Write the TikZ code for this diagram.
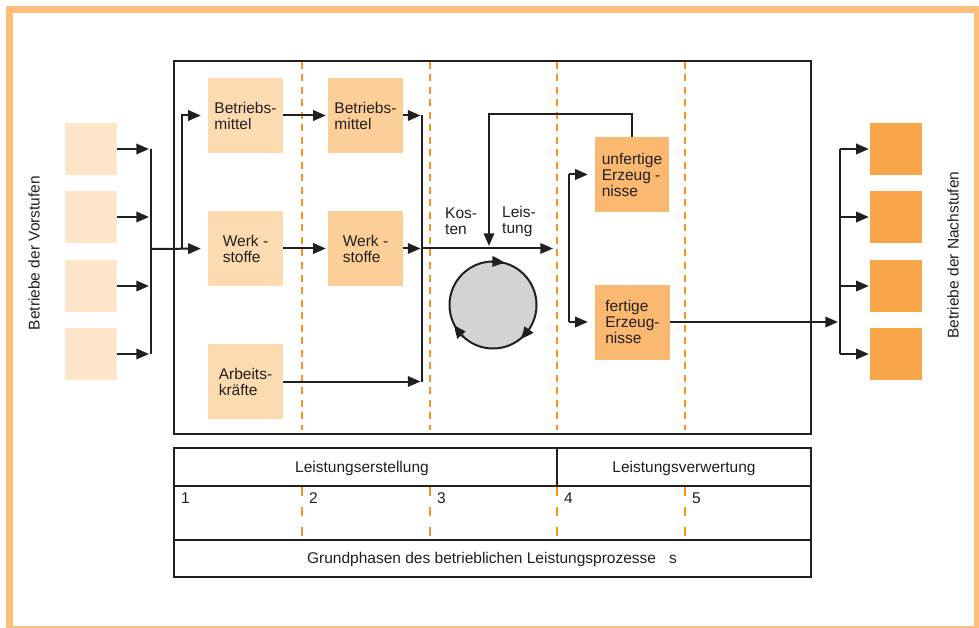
\documentclass[tikz,border=0pt]{standalone}
\usepackage{fontspec}
\setmainfont{Liberation Sans}
\usetikzlibrary{arrows.meta,bending}
\definecolor{ink}{HTML}{231F20}
\definecolor{framecol}{HTML}{FDBE7B}
\definecolor{phasecol}{HTML}{F7941D}
\definecolor{vscol}{HTML}{FDE5C9}
\definecolor{c1col}{HTML}{FDDBB0}
\definecolor{c2col}{HTML}{FDCF98}
\definecolor{c4col}{HTML}{FBB870}
\definecolor{nscol}{HTML}{F9A64A}
\definecolor{circcol}{HTML}{D1D3D4}
\begin{document}
\begin{tikzpicture}[x=1pt,y=-1pt,
  font=\fontsize{15.5}{16}\selectfont, text=ink,
  every node/.style={inner sep=0pt},
  ln/.style={draw=ink,line width=2pt},
  arr/.style={ln,-{Triangle[length=12.7pt,width=10.5pt]}},
  barr/.style={ln,-{Triangle[length=12.7pt,width=10.5pt,bend]}},
  pbox/.style={minimum width=75pt,minimum height=75pt,align=left},
  sbox/.style={minimum width=52pt,minimum height=52pt},
  phase/.style={draw=phasecol,line width=2pt,dash pattern=on 7pt off 5.5pt},
  tphase/.style={draw=phasecol,line width=2pt,dash pattern=on 8.5pt off 11.5pt},
  frame/.style={draw=ink,line width=2pt}]
\useasboundingbox (0,0) rectangle (979,628);
\fill[white] (0,0) rectangle (979,628);
\draw[draw=framecol,line width=7pt] (9.5,10) rectangle (977.5,629);

% main box and phase lines
\draw[frame] (174,61) rectangle (811,434);
\foreach \x in {302,430,557,685} \draw[phase] (\x,62) -- (\x,430);

% Vorstufen
\foreach \i/\y in {1/149,2/217,3/286,4/354} {
  \node[sbox,fill=vscol] (vs\i) at (91,\y) {};
  \coordinate (vj\i) at (151,\y);
  \draw[arr,shorten >=2pt] (vs\i.east) -- (vj\i);
}
\draw[ln] (vj1) -- (vj4);
\node[rotate=90] (vslabel) at (34,253) {Betriebe der Vorstufen};

% column 1
\node[pbox,fill=c1col] (bm1) at (245.5,115.5) {Betriebs-\\mittel};
\node[pbox,fill=c1col] (ws1) at (245.5,248.5) {Werk -\\stoffe};
\node[pbox,fill=c1col] (ak1) at (245.5,381.5) {Arbeits-\\kräfte};
\coordinate (vjm) at (151,249);
\coordinate (br1) at (182,249);
\coordinate (br2) at (182,115.5);
\draw[arr,shorten >=7pt] (vjm) -- (ws1.west);
\draw[arr,shorten >=7pt] (br1) -- (br2) -- (bm1.west);

% column 2
\node[pbox,fill=c2col] (bm2) at (365.5,115.5) {Betriebs-\\mittel};
\node[pbox,fill=c2col] (ws2) at (365.5,248.5) {Werk -\\stoffe};
\draw[arr,shorten >=2pt] (bm1.east) -- (bm2.west);
\draw[arr,shorten >=2pt] (ws1.east) -- (ws2.west);
\coordinate (c2a) at (422,115.5);
\coordinate (c2b) at (422,248.5);
\coordinate (c2c) at (422,381.5);
\draw[arr,shorten >=1.5pt] (bm2.east) -- (c2a);
\draw[arr,shorten >=1.5pt] (ws2.east) -- (c2b);
\draw[arr,shorten >=1.5pt] (ak1.east) -- (c2c);
\draw[ln] (c2a) -- (c2c);

% Kosten / Leistung
\coordinate (kl) at (553,248.5);
\draw[arr] (c2b) -- (kl);
\node[anchor=west,align=left] (kos) at (445,221) {Kos-\\ten};
\node[anchor=west,align=left] (lei) at (502,221) {Leis-\\tung};

% cycle
\node[circle,draw=ink,line width=2pt,fill=circcol,minimum size=87pt] (cyc) at (493,305) {};
\draw[barr] ([shift={(-92:43.5)}]cyc.center) arc[start angle=-92,end angle=-74,radius=43.5];
\draw[barr] ([shift={(34:43.5)}]cyc.center) arc[start angle=34,end angle=51,radius=43.5];
\draw[barr] ([shift={(-227:43.5)}]cyc.center) arc[start angle=-227,end angle=-207,radius=43.5];

% column 4
\node[pbox,fill=c4col,minimum width=74pt] (unf) at (632,174.5) {unfertige\\Erzeug -\\nisse};
\node[pbox,fill=c4col] (fer) at (632.5,322) {fertige\\Erzeug-\\nisse};
\coordinate (fb1) at (632,114);
\coordinate (fb2) at (489,114);
\coordinate (fb3) at (489,248.5);
\draw[arr,shorten >=2.5pt] (unf.north) -- (fb1) -- (fb2) -- (fb3);
\coordinate (bk1) at (569,174.5);
\coordinate (bk2) at (569,322);
\draw[ln] (bk1) -- (bk2);
\draw[arr,shorten >=7pt] (bk1) -- (unf.west);
\draw[arr,shorten >=7pt] (bk2) -- (fer.west);

% Nachstufen
\coordinate (nj) at (840,322);
\draw[arr,shorten >=2pt] (fer.east) -- (nj);
\foreach \i/\y in {1/149,2/217,3/286,4/354} {
  \node[sbox,fill=nscol] (ns\i) at (896,\y) {};
  \coordinate (nj\i) at (840,\y);
  \draw[arr,shorten >=1pt] (nj\i) -- (ns\i.west);
}
\draw[ln] (nj1) -- (nj4);
\node[rotate=90] (nslabel) at (953,255) {Betriebe der Nachstufen};

% table
\draw[frame] (174,448) rectangle (811,577);
\coordinate (tl1) at (174,486);
\coordinate (tr1) at (811,486);
\coordinate (tl2) at (174,540);
\coordinate (tr2) at (811,540);
\draw[frame] (tl1) -- (tr1);
\draw[frame] (tl2) -- (tr2);
\draw[frame] (557,448) -- (557,486);
\foreach \x in {302,430,557,685} \draw[tphase] (\x,487) -- (\x,539);
\node[anchor=base] (le) at (362,472) {Leistungserstellung};
\node[anchor=base] (lv) at (684,472) {Leistungsverwertung};
\node[anchor=base west] (n1) at (181,503) {1};
\node[anchor=base west] (n2) at (309,503) {2};
\node[anchor=base west] (n3) at (437,503) {3};
\node[anchor=base west] (n4) at (564,503) {4};
\node[anchor=base west] (n5) at (692,503) {5};
\node[anchor=base] (gp) at (492,563) {Grundphasen des betrieblichen Leistungsprozesse\hspace{13pt}s};
\end{tikzpicture}
\end{document}
